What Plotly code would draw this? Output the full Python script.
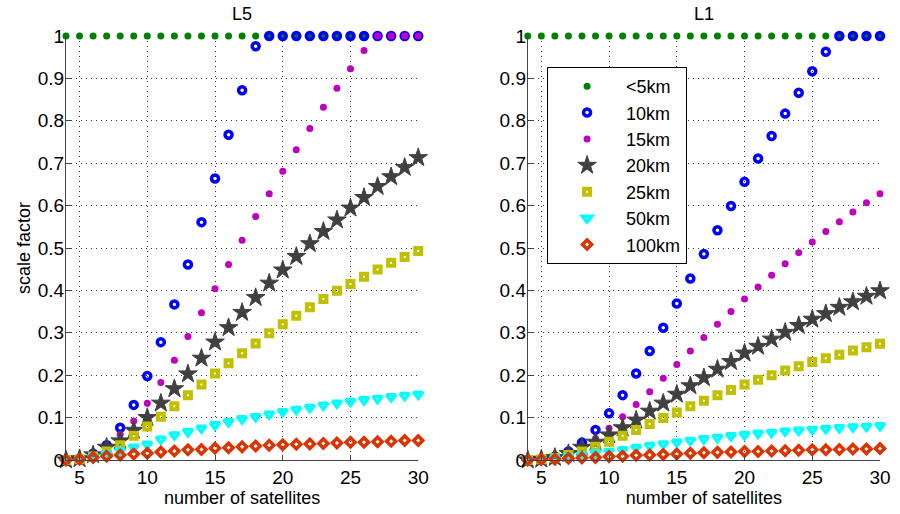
import plotly.graph_objects as go

x_sats = list(range(4, 31))
series_names = ["<5km", "10km", "15km", "20km", "25km", "50km", "100km"]

# L5 panel values (x = 4..30)
l5_lt5 = [1.0] * 27
l5_10 = [0, 0.003, 0.015, 0.035, 0.076, 0.13, 0.198, 0.278, 0.367, 0.461, 0.561, 0.664, 0.767, 0.872, 0.976,
         1, 1, 1, 1, 1, 1, 1, 1, 1, 1, 1, 1]
l5_15 = [0, 0.002, 0.01, 0.03, 0.06, 0.092, 0.134, 0.183, 0.235, 0.291, 0.347, 0.404, 0.461, 0.518, 0.574,
         0.628, 0.681, 0.732, 0.782, 0.832, 0.877, 0.923, 0.966, 1, 1, 1, 1]
l5_20 = [0, 0.003, 0.012, 0.03, 0.045, 0.07, 0.1, 0.134, 0.168, 0.203, 0.24, 0.278, 0.312, 0.348, 0.383,
         0.417, 0.448, 0.48, 0.51, 0.539, 0.566, 0.594, 0.619, 0.645, 0.668, 0.69, 0.713]
l5_25 = [0, 0.002, 0.008, 0.02, 0.035, 0.057, 0.079, 0.102, 0.127, 0.153, 0.178, 0.204, 0.228, 0.252, 0.275,
         0.299, 0.32, 0.34, 0.36, 0.38, 0.399, 0.415, 0.432, 0.449, 0.465, 0.479, 0.493]
l5_50 = [0, 0.002, 0.008, 0.015, 0.022, 0.03, 0.037, 0.049, 0.059, 0.067, 0.075, 0.083, 0.09, 0.097, 0.102,
         0.108, 0.114, 0.119, 0.124, 0.129, 0.134, 0.138, 0.142, 0.145, 0.149, 0.152, 0.155]
l5_100 = [0, 0.002, 0.006, 0.009, 0.012, 0.014, 0.016, 0.019, 0.021, 0.024, 0.025, 0.028, 0.029, 0.031, 0.033,
          0.035, 0.036, 0.037, 0.038, 0.039, 0.04, 0.042, 0.042, 0.043, 0.044, 0.046, 0.046]

# L1 panel values (x = 4..30)
l1_lt5 = [1.0] * 27
l1_10 = [0, 0.002, 0.008, 0.02, 0.041, 0.071, 0.11, 0.153, 0.204, 0.257, 0.312, 0.369, 0.428, 0.486, 0.542,
         0.599, 0.656, 0.711, 0.764, 0.817, 0.866, 0.917, 0.963, 1, 1, 1, 1]
l1_15 = [0, 0.002, 0.006, 0.015, 0.03, 0.051, 0.075, 0.102, 0.131, 0.161, 0.193, 0.225, 0.257, 0.289, 0.32,
         0.35, 0.38, 0.408, 0.436, 0.463, 0.489, 0.514, 0.539, 0.562, 0.585, 0.607, 0.628]
l1_20 = [0, 0.002, 0.006, 0.015, 0.03, 0.042, 0.059, 0.076, 0.094, 0.115, 0.134, 0.155, 0.175, 0.194, 0.214,
         0.232, 0.252, 0.268, 0.285, 0.301, 0.317, 0.332, 0.345, 0.36, 0.373, 0.386, 0.399]
l1_25 = [0, 0.002, 0.005, 0.012, 0.02, 0.031, 0.043, 0.057, 0.071, 0.085, 0.099, 0.112, 0.127, 0.14, 0.153,
         0.165, 0.178, 0.189, 0.2, 0.211, 0.221, 0.231, 0.24, 0.248, 0.258, 0.266, 0.274]
l1_50 = [0, 0.001, 0.004, 0.008, 0.012, 0.017, 0.02, 0.024, 0.029, 0.034, 0.038, 0.042, 0.046, 0.05, 0.053,
         0.057, 0.06, 0.063, 0.065, 0.068, 0.07, 0.072, 0.074, 0.076, 0.078, 0.079, 0.081]
l1_100 = [0, 0.001, 0.002, 0.004, 0.005, 0.006, 0.008, 0.009, 0.011, 0.012, 0.013, 0.014, 0.016, 0.017, 0.018,
          0.019, 0.02, 0.02, 0.021, 0.022, 0.023, 0.024, 0.024, 0.025, 0.026, 0.026, 0.027]

x_ticks = [5, 10, 15, 20, 25, 30]
y_ticks = [0, 0.1, 0.2, 0.3, 0.4, 0.5, 0.6, 0.7, 0.8, 0.9, 1]
y_tick_labels = ["0", "0.1", "0.2", "0.3", "0.4", "0.5", "0.6", "0.7", "0.8", "0.9", "1"]

styles = [
    dict(symbol="circle", size=7, color="#008000", line=dict(width=0)),
    dict(symbol="circle-open", size=7, color="#0000ff", line=dict(width=3.5, color="#0000ff")),
    dict(symbol="circle", size=7, color="#bf00bf", line=dict(width=0)),
    dict(symbol="star", size=14, color="#404040", line=dict(width=1, color="#404040")),
    dict(symbol="square-open", size=6, color="#c0c000", line=dict(width=4, color="#c0c000")),
    dict(symbol="triangle-down-open", size=8, color="#00ffff", line=dict(width=3.5, color="#00ffff")),
    dict(symbol="diamond-open", size=7, color="#dd3300", line=dict(width=3.5, color="#dd3300")),
]

l5 = [l5_lt5, l5_10, l5_15, l5_20, l5_25, l5_50, l5_100]
l1 = [l1_lt5, l1_10, l1_15, l1_20, l1_25, l1_50, l1_100]

fig = go.Figure()
for name, vals, st in zip(series_names, l5, styles):
    fig.add_trace(go.Scatter(x=x_sats, y=vals, mode="markers", name=name, marker=st,
                             xaxis="x", yaxis="y", showlegend=False, cliponaxis=False))
for name, vals, st in zip(series_names, l1, styles):
    fig.add_trace(go.Scatter(x=x_sats, y=vals, mode="markers", name=name, marker=st,
                             xaxis="x2", yaxis="y2", showlegend=True, cliponaxis=False))

font = dict(family="Liberation Sans, Arial, sans-serif", size=18, color="#000000")
tick_font = dict(family="Liberation Sans, Arial, sans-serif", size=19, color="#000000")

axis_common = dict(
    showgrid=True, gridcolor="#333333", gridwidth=1, griddash="1px,4px",
    showline=True, linecolor="#444444", linewidth=1,
    ticks="inside", ticklen=5, tickcolor="#444444",
    zeroline=False, tickfont=tick_font, mirror=False,
)

fig.update_layout(
    width=900, height=514,
    margin=dict(l=66, r=9, t=36, b=54),
    paper_bgcolor="white", plot_bgcolor="white",
    font=font,
    xaxis=dict(domain=[0, 0.4327], range=[4, 30], tickvals=x_ticks,
               title=dict(text="number of satellites", font=font, standoff=4), **axis_common),
    yaxis=dict(domain=[0, 1], range=[0, 1], tickvals=y_ticks, ticktext=y_tick_labels,
               ticklabelstandoff=-3,
               title=dict(text="scale factor", font=font, standoff=2), **axis_common),
    xaxis2=dict(domain=[0.5673, 1], range=[4, 30], tickvals=x_ticks, anchor="y2",
                title=dict(text="number of satellites", font=font, standoff=4), **axis_common),
    yaxis2=dict(domain=[0, 1], range=[0, 1], tickvals=y_ticks, ticktext=y_tick_labels,
                ticklabelstandoff=-3, anchor="x2", **axis_common),
    legend=dict(x=0.591, xanchor="left", y=0.927, yanchor="top",
                bgcolor="white", bordercolor="#000000", borderwidth=1,
                font=font, itemwidth=68, tracegroupgap=0),
    annotations=[
        dict(text="L5", x=0.2163, y=1.0, xref="paper", yref="paper", xanchor="center",
             yanchor="bottom", yshift=10, showarrow=False, font=font),
        dict(text="L1", x=0.7836, y=1.0, xref="paper", yref="paper", xanchor="center",
             yanchor="bottom", yshift=10, showarrow=False, font=font),
    ],
)

fig.write_html("out.html")
